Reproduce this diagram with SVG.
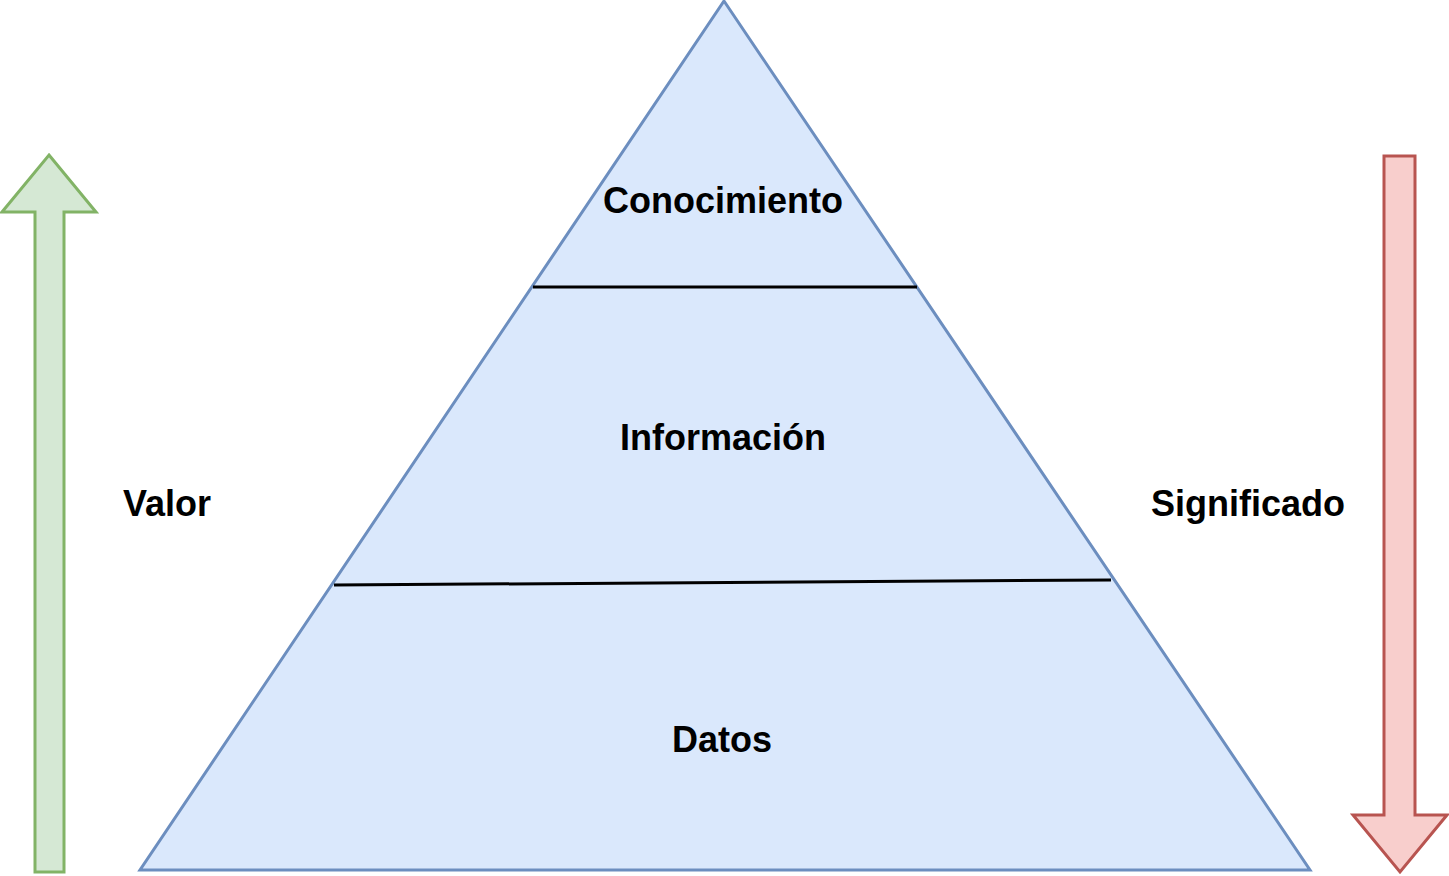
<svg xmlns="http://www.w3.org/2000/svg" width="1449" height="876" viewBox="0 0 1449 876">
<style>
.lbl{font-family:"Liberation Sans",Arial,sans-serif;font-weight:bold;font-size:36px;fill:#000;text-anchor:middle}
.sep{stroke:#000;stroke-width:3;fill:none}
</style>
<rect width="1449" height="876" fill="#fff"/>
<g id="pyramid">
<polygon points="724,1 1310,870 140,870" fill="#dae8fc" stroke="#6c8ebf" stroke-width="3" stroke-linejoin="miter"/>
</g>
<g id="connectors">
<line class="sep" x1="533" y1="287" x2="917" y2="287"/>
<line class="sep" x1="334" y1="585" x2="1111" y2="580"/>
</g>
<g id="arrow-valor">
<polygon points="49,155 96,212 64,212 64,872 35,872 35,212 2,212" fill="#d5e8d4" stroke="#82b366" stroke-width="3"/>
</g>
<g id="arrow-significado">
<polygon points="1384,156 1415,156 1415,815 1447,815 1400,872 1353,815 1384,815" fill="#f8cecc" stroke="#b85450" stroke-width="3"/>
</g>
<g id="conocimiento"><text class="lbl" x="723" y="213">Conocimiento</text></g>
<g id="informacion"><text class="lbl" x="723" y="450">Información</text></g>
<g id="datos"><text class="lbl" x="722" y="752">Datos</text></g>
<g id="valor"><text class="lbl" x="167" y="516">Valor</text></g>
<g id="significado"><text class="lbl" x="1248" y="516">Significado</text></g>
</svg>
